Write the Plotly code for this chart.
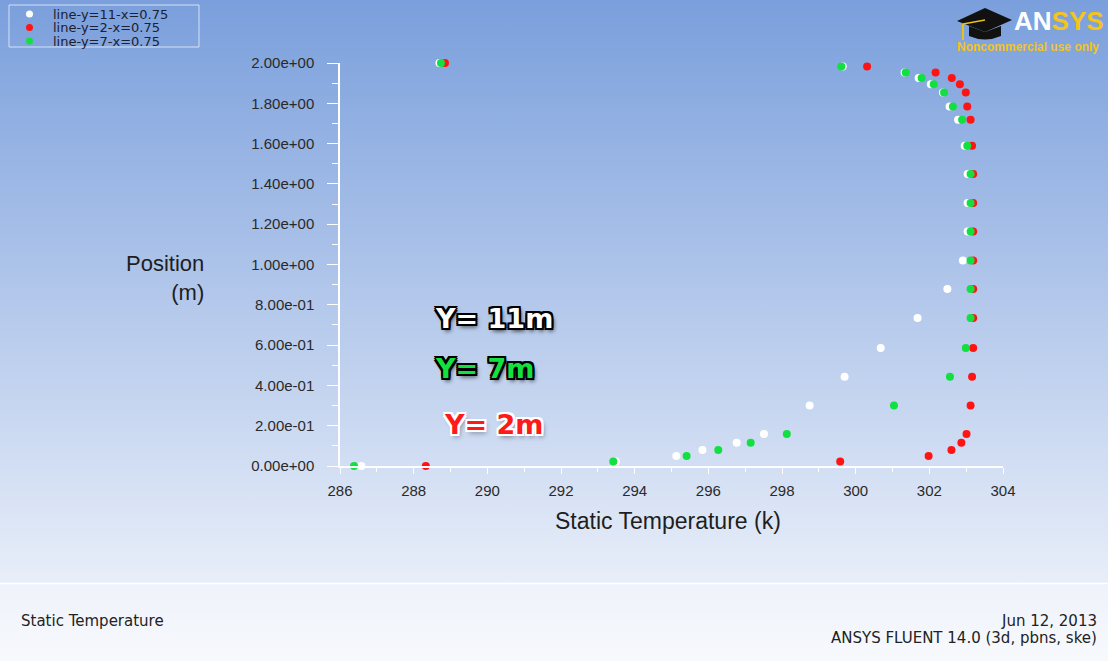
import plotly.graph_objects as go
from urllib.parse import quote

# ---------------- data ----------------
position_m = [0.0, 0.022, 0.050, 0.079, 0.116, 0.159, 0.300, 0.443, 0.585, 0.735,
              0.878, 1.020, 1.164, 1.305, 1.449, 1.589, 1.718, 1.784, 1.854, 1.894,
              1.926, 1.953, 1.983, 2.0]

temp_y11 = [286.58, 293.49, 295.13, 295.84, 296.77, 297.51, 298.75, 299.70, 300.68, 301.68,
            302.49, 302.91, 303.04, 303.04, 303.04, 302.96, 302.78, 302.55, 302.37, 302.04,
            301.71, 301.33, 299.65, 288.70]

temp_y2 = [288.33, 299.58, 301.98, 302.60, 302.87, 303.01, 303.12, 303.16, 303.19, 303.19,
           303.19, 303.19, 303.19, 303.19, 303.19, 303.16, 303.12, 303.03, 302.99, 302.83,
           302.61, 302.17, 300.31, 288.85]

temp_y7 = [286.38, 293.42, 295.41, 296.27, 297.15, 298.13, 301.04, 302.56, 302.99, 303.12,
           303.12, 303.12, 303.12, 303.12, 303.12, 303.03, 302.89, 302.64, 302.40, 302.12,
           301.79, 301.36, 299.61, 288.74]

series_names = ["line-y=11-x=0.75", "line-y=2-x=0.75", "line-y=7-x=0.75"]
series_temps = [temp_y11, temp_y2, temp_y7]
series_colors = ["#ffffff", "#ff1414", "#12e040"]

x_tick_vals = [286, 288, 290, 292, 294, 296, 298, 300, 302, 304]
y_tick_vals = [0.0, 0.2, 0.4, 0.6, 0.8, 1.0, 1.2, 1.4, 1.6, 1.8, 2.0]
y_tick_text = ["0.00e+00", "2.00e-01", "4.00e-01", "6.00e-01", "8.00e-01", "1.00e+00",
               "1.20e+00", "1.40e+00", "1.60e+00", "1.80e+00", "2.00e+00"]

# ---------------- geometry ----------------
W, H = 1108, 661
ML, MR, MT, MB = 340, 105, 63, 195
PW, PH = W - ML - MR, H - MT - MB


def px(x):
    return (x - ML) / PW


def py(y):
    return (H - MB - y) / PH


FONT = "Liberation Sans, Arial, sans-serif"
WIDE = "DejaVu Sans, sans-serif"

fig = go.Figure()

for name, temps, color in zip(series_names, series_temps, series_colors):
    fig.add_trace(go.Scatter(
        x=temps, y=position_m, mode="markers", name=name,
        marker=dict(size=8, color=color, line=dict(width=0)),
        cliponaxis=False, showlegend=False,
    ))

# background gradient as an svg image
svg = (
    f"<svg xmlns='http://www.w3.org/2000/svg' width='{W}' height='{H}' viewBox='0 0 {W} {H}' preserveAspectRatio='none'>"
    "<defs>"
    "<linearGradient id='g' x1='0' y1='0' x2='0' y2='1'>"
    "<stop offset='0' stop-color='#7a9fdc'/><stop offset='1' stop-color='#e8eef9'/></linearGradient>"
    "<linearGradient id='f' x1='0' y1='0' x2='0' y2='1'>"
    "<stop offset='0' stop-color='#eef2fa'/><stop offset='1' stop-color='#f7f9fd'/></linearGradient>"
    "</defs>"
    f"<rect x='0' y='0' width='{W}' height='583' fill='url(#g)'/>"
    f"<rect x='0' y='583' width='{W}' height='{H - 583}' fill='url(#f)'/>"
    f"<line x1='0' y1='583.5' x2='{W}' y2='583.5' stroke='#ffffff' stroke-width='1.5'/>"
    "</svg>"
)
bg_src = "data:image/svg+xml;charset=utf-8," + quote(svg)

shapes = []
annotations = []

# legend box
shapes.append(dict(type="rect", xref="paper", yref="paper",
                   x0=px(9), x1=px(199), y0=py(5), y1=py(47),
                   line=dict(color="#d4e0f4", width=1), fillcolor="rgba(0,0,0,0)"))
legend_rows = [14, 27.5, 41]
for name, color, yy in zip(series_names, series_colors, legend_rows):
    shapes.append(dict(type="circle", xref="paper", yref="paper",
                       x0=px(26), x1=px(33), y0=py(yy + 3.5), y1=py(yy - 3.5),
                       line=dict(width=0), fillcolor=color))
    annotations.append(dict(xref="paper", yref="paper", x=px(51), y=py(yy + 0.5),
                            xanchor="left", yanchor="middle", showarrow=False,
                            text=name, font=dict(family=WIDE, size=13, color="#1c2030")))

# ANSYS logo
shapes.append(dict(type="path", xref="paper", yref="paper",
                   path=f"M {px(957)},{py(21)} L {px(985)},{py(8)} L {px(1012)},{py(20)} L {px(985)},{py(32)} Z",
                   fillcolor="#111111", line=dict(width=0)))
shapes.append(dict(type="path", xref="paper", yref="paper",
                   path=f"M {px(969)},{py(26)} L {px(969)},{py(36)} Q {px(985)},{py(43)} {px(1001)},{py(36)} L {px(1001)},{py(26)} L {px(985)},{py(32)} Z",
                   fillcolor="#111111", line=dict(width=0)))
shapes.append(dict(type="line", xref="paper", yref="paper",
                   x0=px(985), y0=py(20), x1=px(963), y1=py(24),
                   line=dict(color="#e8c21c", width=1.5)))
shapes.append(dict(type="line", xref="paper", yref="paper",
                   x0=px(963), y0=py(24), x1=px(963), y1=py(40),
                   line=dict(color="#e8c21c", width=2)))
annotations.append(dict(xref="paper", yref="paper", x=px(1012), y=py(21),
                        xanchor="left", yanchor="middle", showarrow=False,
                        text="<span style='color:#ffffff'>AN</span><span style='color:#f2c41c'>SYS</span>",
                        font=dict(family=FONT, size=26, weight="bold")))
annotations.append(dict(xref="paper", yref="paper", x=px(955), y=py(47),
                        xanchor="left", yanchor="middle", showarrow=False,
                        text="Noncommercial use only",
                        font=dict(family=FONT, size=12, weight="bold", color="#f2c41c")))

# axis titles
annotations.append(dict(xref="paper", yref="paper", x=px(206), y=py(278),
                        xanchor="right", yanchor="middle", align="right", showarrow=False,
                        text="Position<br>(m)",
                        font=dict(family=FONT, size=22, color="#1e1e1e")))
annotations.append(dict(xref="paper", yref="paper", x=px(668), y=py(521),
                        xanchor="center", yanchor="middle", showarrow=False,
                        text="Static Temperature (k)",
                        font=dict(family=FONT, size=23, color="#1e1e1e")))

# series labels
black_outline = ("-2px -2px 0 #000, 2px -2px 0 #000, -2px 2px 0 #000, 2px 2px 0 #000, "
                 "0 -2px 0 #000, 0 2px 0 #000, -2px 0 0 #000, 2px 0 0 #000, 2px 3px 4px #333")
white_outline = ("-2px -2px 0 #fff, 2px -2px 0 #fff, -2px 2px 0 #fff, 2px 2px 0 #fff, "
                 "0 -2px 0 #fff, 0 2px 0 #fff, -2px 0 0 #fff, 2px 0 0 #fff, 2px 3px 5px rgba(0,0,0,0.45)")
label_specs = [("Y= 11m", "#ffffff", black_outline, 433, 318),
               ("Y= 7m", "#14e040", black_outline, 433, 368),
               ("Y= 2m", "#ff1a1a", white_outline, 442, 424)]
for txt, col, sh, lx, ly in label_specs:
    annotations.append(dict(xref="paper", yref="paper", x=px(lx), y=py(ly),
                            xanchor="left", yanchor="middle", showarrow=False, text=txt,
                            font=dict(family=WIDE, size=27,
                                      weight="bold", color=col, shadow=sh)))

# footer
annotations.append(dict(xref="paper", yref="paper", x=px(19), y=py(621),
                        xanchor="left", yanchor="middle", showarrow=False,
                        text="Static Temperature",
                        font=dict(family=WIDE, size=15, color="#222222")))
annotations.append(dict(xref="paper", yref="paper", x=px(1099), y=py(621),
                        xanchor="right", yanchor="middle", showarrow=False,
                        text="Jun 12, 2013",
                        font=dict(family=WIDE, size=15, color="#222222")))
annotations.append(dict(xref="paper", yref="paper", x=px(1099), y=py(638),
                        xanchor="right", yanchor="middle", showarrow=False,
                        text="ANSYS FLUENT 14.0 (3d, pbns, ske)",
                        font=dict(family=WIDE, size=15, color="#222222")))

fig.update_layout(
    width=W, height=H, autosize=False,
    margin=dict(l=ML, r=MR, t=MT, b=MB, pad=0),
    paper_bgcolor="#b4c8ea", plot_bgcolor="rgba(0,0,0,0)",
    showlegend=False,
    images=[dict(source=bg_src, xref="paper", yref="paper", x=px(0), y=py(0),
                 sizex=W / PW, sizey=H / PH, xanchor="left", yanchor="top",
                 sizing="stretch", layer="below")],
    shapes=shapes,
    annotations=annotations,
    xaxis=dict(range=[286, 304], tickmode="array", tickvals=x_tick_vals,
               ticks="outside", ticklen=6, tickwidth=1.2, tickcolor="#ffffff",
               showline=True, linecolor="#ffffff", linewidth=1.5,
               showgrid=False, zeroline=False,
               minor=dict(tickmode="linear", tick0=286, dtick=1, ticks="outside",
                          ticklen=4, tickcolor="#ffffff", tickwidth=1.2, showgrid=False),
               tickfont=dict(family=FONT, size=15, color="#2a2a2a"),
               ticklabelstandoff=4),
    yaxis=dict(range=[0, 2], tickmode="array", tickvals=y_tick_vals, ticktext=y_tick_text,
               ticks="outside", ticklen=11, tickwidth=1.2, tickcolor="#ffffff",
               showline=True, linecolor="#ffffff", linewidth=1.5,
               showgrid=False, zeroline=False,
               minor=dict(tickmode="linear", tick0=0, dtick=0.1, ticks="outside",
                          ticklen=6, tickcolor="#ffffff", tickwidth=1.2, showgrid=False),
               tickfont=dict(family=FONT, size=15, color="#2a2a2a"),
               ticklabelstandoff=10),
)

fig.write_html("out.html")
